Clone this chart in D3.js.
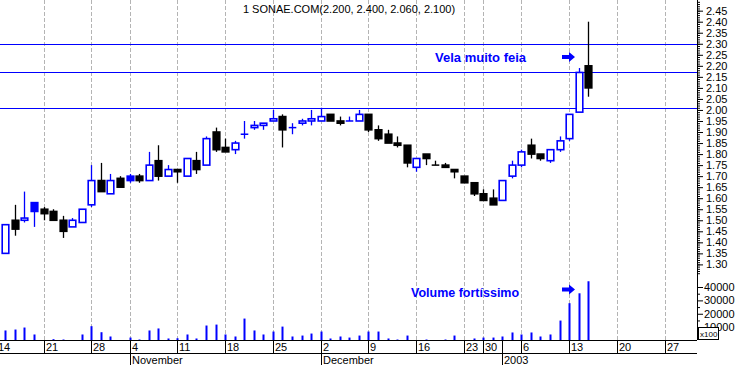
<!DOCTYPE html>
<html lang="en">
<head>
<meta charset="utf-8">
<title>SONAE.COM candlesticks</title>
<script src="https://d3js.org/d3.v7.min.js"></script>
<style>
    body { margin: 0; background: #fff; }
    svg { display: block; font-family: Arial, "Liberation Sans", sans-serif; }
</style>
</head>
<body>
<svg class="chart" width="738" height="365"></svg>
<script>
    /* global d3 */
    // trading day index, 0 = 14 Oct 2002
    let dayIdx = d3.range(1, 63);
    let openP = [1.35, 1.50, 1.50, 1.58, 1.55, 1.54, 1.50, 1.47, 1.49, 1.57,
        1.68, 1.62, 1.69, 1.70, 1.70, 1.68, 1.77, 1.70, 1.73, 1.70,
        1.77, 1.75, 1.90, 1.83, 1.82, 1.89, 1.92, 1.93, 1.95, 1.97,
        1.92, 1.94, 1.95, 1.95, 1.98, 1.95, 1.95, 1.95, 1.98, 1.91,
        1.89, 1.85, 1.84, 1.74, 1.80, 1.75, 1.75, 1.73, 1.70, 1.67,
        1.62, 1.60, 1.59, 1.70, 1.75, 1.84, 1.80, 1.77, 1.82, 1.87,
        1.99, 2.20];
    let highP = [1.48, 1.57, 1.63, 1.58, 1.56, 1.55, 1.52, 1.51, 1.55, 1.75,
        1.76, 1.71, 1.70, 1.71, 1.71, 1.81, 1.84, 1.75, 1.73, 1.78,
        1.81, 1.88, 1.92, 1.87, 1.86, 1.95, 1.95, 1.94, 2.00, 1.98,
        1.94, 1.96, 2.00, 2.01, 1.98, 1.97, 1.97, 2.00, 1.98, 1.93,
        1.91, 1.88, 1.84, 1.78, 1.80, 1.77, 1.76, 1.73, 1.70, 1.67,
        1.64, 1.64, 1.68, 1.77, 1.82, 1.87, 1.80, 1.82, 1.88, 1.98,
        2.19, 2.40];
    let lowP = [1.35, 1.43, 1.49, 1.47, 1.50, 1.50, 1.42, 1.47, 1.49, 1.56,
        1.63, 1.62, 1.65, 1.67, 1.67, 1.68, 1.68, 1.70, 1.67, 1.70,
        1.71, 1.75, 1.81, 1.81, 1.80, 1.87, 1.91, 1.91, 1.95, 1.83,
        1.89, 1.93, 1.93, 1.95, 1.95, 1.93, 1.95, 1.95, 1.90, 1.86,
        1.85, 1.83, 1.74, 1.72, 1.75, 1.75, 1.74, 1.69, 1.67, 1.61,
        1.59, 1.57, 1.59, 1.69, 1.74, 1.78, 1.77, 1.76, 1.81, 1.86,
        1.99, 2.06];
    let closeP = [1.48, 1.46, 1.51, 1.54, 1.53, 1.50, 1.45, 1.50, 1.55, 1.68,
        1.63, 1.68, 1.65, 1.68, 1.68, 1.75, 1.70, 1.73, 1.72, 1.78,
        1.73, 1.87, 1.82, 1.81, 1.85, 1.89, 1.93, 1.94, 1.96, 1.91,
        1.92, 1.95, 1.96, 1.97, 1.95, 1.94, 1.95, 1.98, 1.91, 1.87,
        1.85, 1.84, 1.76, 1.78, 1.78, 1.75, 1.74, 1.72, 1.67, 1.62,
        1.59, 1.57, 1.68, 1.75, 1.81, 1.80, 1.78, 1.82, 1.86, 1.98,
        2.17, 2.10];
    let volume = [7500, 8200, 9700, 4500, 0, 1000, 750, 0, 4500, 10700,
        6200, 3000, 0, 2200, 750, 7500, 9000, 1500, 1700, 4500,
        1500, 11200, 11900, 4500, 3000, 16400, 7500, 4500, 6700, 10400,
        3000, 3700, 5200, 6700, 1500, 3000, 2200, 3700, 6700, 6700,
        1500, 750, 3700, 0, 750, 0, 750, 3700, 0, 1500,
        2200, 2200, 3000, 6000, 4500, 6000, 3000, 4500, 14900, 27900,
        35300, 44300];

    let weekDays = [0, 5, 10, 14, 19, 24, 29, 34, 39, 44, 49, 51, 55, 60, 65, 70];
    let weekLabels = ["14", "21", "28", "4", "11", "18", "25", "2", "9", "16", "23", "30", "6", "13", "20", "27"];
    let monthDays = [14, 34, 53];
    let monthLabels = ["November", "December", "2003"];
    let priceTicks = [1.30, 1.35, 1.40, 1.45, 1.50, 1.55, 1.60, 1.65, 1.70, 1.75, 1.80, 1.85,
        1.90, 1.95, 2.00, 2.05, 2.10, 2.15, 2.20, 2.25, 2.30, 2.35, 2.40, 2.45];
    let volTicks = [10000, 20000, 30000, 40000];
    let levels = [2.30, 2.17, 2.01];

    let W = 738, H = 365;
    let axisX = 697;
    let blue = "#0000ff";

    let x = d3.scaleLinear().domain([5, 70]).range([43.5, 664.7]);
    let yP = d3.scaleLinear().domain([1.30, 2.40]).range([264.4, 21.7]);
    let yV = d3.scaleLinear().domain([0, 40000]).range([340.5, 287]);

    let svg = d3.select(".chart");
    svg.append("rect").attr("width", W).attr("height", H).attr("fill", "#fff");

    let data = dayIdx.map(function (d, i) {
        return {
            i: d, o: openP[i], h: highP[i], l: lowP[i], c: closeP[i], v: volume[i],
            up: i == 0 ? true : closeP[i] > closeP[i - 1]
        };
    });
    let px = function (d) { return Math.round(x(d.i)) + 0.5; };

    // weekly grid
    svg.append("g").selectAll("line")
        .data(weekDays)
        .join("line")
        .attr("x1", d => Math.round(x(d)) + 0.5)
        .attr("x2", d => Math.round(x(d)) + 0.5)
        .attr("y1", 0)
        .attr("y2", 340)
        .attr("stroke", "#b4b4b4")
        .attr("stroke-dasharray", "4,2");

    // horizontal levels
    svg.append("g").selectAll("line")
        .data(levels)
        .join("line")
        .attr("x1", 0)
        .attr("x2", axisX)
        .attr("y1", d => Math.round(yP(d)) + 0.5)
        .attr("y2", d => Math.round(yP(d)) + 0.5)
        .attr("stroke", blue);

    // volume
    svg.append("g").selectAll("rect")
        .data(data.filter(d => d.v > 0))
        .join("rect")
        .attr("x", d => px(d) - 1)
        .attr("width", 2)
        .attr("y", d => yV(d.v))
        .attr("height", d => yV(0) - yV(d.v))
        .attr("fill", blue);

    // candles
    let candle = svg.append("g").selectAll("g")
        .data(data)
        .join("g")
        .attr("stroke", d => d.up ? blue : "#000");

    candle.append("line")
        .attr("x1", px).attr("x2", px)
        .attr("y1", d => yP(d.h))
        .attr("y2", d => yP(Math.max(d.o, d.c)))
        .attr("stroke-width", 1.3);
    candle.append("line")
        .attr("x1", px).attr("x2", px)
        .attr("y1", d => yP(Math.min(d.o, d.c)))
        .attr("y2", d => yP(d.l))
        .attr("stroke-width", 1.3);
    candle.filter(d => d.o != d.c).append("rect")
        .attr("x", d => px(d) - 3.3)
        .attr("width", 6.6)
        .attr("y", d => yP(Math.max(d.o, d.c)))
        .attr("height", d => yP(Math.min(d.o, d.c)) - yP(Math.max(d.o, d.c)))
        .attr("fill", d => d.c > d.o ? "#fff" : (d.up ? blue : "#000"))
        .attr("stroke-width", 1.6);
    candle.filter(d => d.o == d.c).append("line")
        .attr("x1", d => px(d) - 3.8).attr("x2", d => px(d) + 3.8)
        .attr("y1", d => yP(d.c)).attr("y2", d => yP(d.c))
        .attr("stroke-width", 1.5);

    // right axis
    let minor = d3.range(126, 250).map(d => d / 100);
    svg.append("g")
        .attr("transform", "translate(" + axisX + ",0)")
        .call(d3.axisRight(yP).tickValues(minor).tickSize(3).tickFormat(""))
        .call(g => g.select(".domain").remove());
    svg.append("g")
        .attr("transform", "translate(" + axisX + ",0)")
        .call(d3.axisRight(yP).tickValues(priceTicks).tickSize(6).tickPadding(3).tickFormat(d3.format(".2f")))
        .call(g => g.select(".domain").remove())
        .selectAll("text").attr("font-size", "11px").attr("font-family", "Arial, 'Liberation Sans', sans-serif");
    svg.append("g")
        .attr("transform", "translate(" + axisX + ",0)")
        .call(d3.axisRight(yV).tickValues([5000, 15000, 25000, 35000]).tickSize(3).tickFormat(""))
        .call(g => g.select(".domain").remove());
    svg.append("g")
        .attr("transform", "translate(" + axisX + ",0)")
        .call(d3.axisRight(yV).tickValues(volTicks).tickSize(6).tickPadding(1).tickFormat(d3.format("d")))
        .call(g => g.select(".domain").remove())
        .selectAll("text").attr("font-size", "11px").attr("font-family", "Arial, 'Liberation Sans', sans-serif");
    svg.append("line")
        .attr("x1", axisX + 0.5).attr("x2", axisX + 0.5)
        .attr("y1", 0).attr("y2", 340)
        .attr("stroke", "#000");

    // x100 box
    svg.append("rect")
        .attr("x", 698.5).attr("y", 327.5).attr("width", 20).attr("height", 12)
        .attr("fill", "#fff").attr("stroke", "#000");
    svg.append("text")
        .attr("x", 700).attr("y", 337)
        .attr("font-size", "8px")
        .text("x100");

    // bottom date axis
    let bottom = svg.append("g");
    bottom.append("line").attr("x1", 0).attr("x2", axisX).attr("y1", 340.5).attr("y2", 340.5).attr("stroke", "#000");
    bottom.append("line").attr("x1", 0).attr("x2", axisX).attr("y1", 353.5).attr("y2", 353.5).attr("stroke", "#000");
    let wk = bottom.selectAll(".wk")
        .data(weekDays)
        .join("g")
        .attr("class", "wk")
        .attr("transform", d => "translate(" + (Math.round(x(d)) + 0.5) + ",0)");
    wk.append("line").attr("y1", 340).attr("y2", 353).attr("stroke", "#000");
    wk.append("text")
        .attr("x", 1.5).attr("y", 351)
        .attr("font-size", "11px")
        .text((d, i) => weekLabels[i]);
    let mo = bottom.selectAll(".mo")
        .data(monthDays)
        .join("g")
        .attr("class", "mo")
        .attr("transform", d => "translate(" + (Math.round(x(d)) + 0.5) + ",0)");
    mo.append("line").attr("y1", 340).attr("y2", 365).attr("stroke", "#000");
    mo.append("text")
        .attr("x", 1.5).attr("y", 364)
        .attr("font-size", "11px")
        .text((d, i) => monthLabels[i]);

    // title
    svg.append("text")
        .attr("x", 349).attr("y", 13)
        .attr("text-anchor", "middle")
        .attr("font-size", "11px")
        .text("1 SONAE.COM(2.200, 2.400, 2.060, 2.100)");

    // notes
    let arrow = function (g, cx, cy) {
        g.append("path")
            .attr("d", "M" + (cx - 13) + "," + (cy - 2) + "H" + (cx - 6) + "V" + (cy - 5) + "L" + cx + "," + cy +
                "L" + (cx - 6) + "," + (cy + 5) + "V" + (cy + 2) + "H" + (cx - 13) + "Z")
            .attr("fill", blue);
    };
    let notes = svg.append("g").attr("fill", blue).attr("font-weight", "bold").attr("font-size", "13px");
    notes.append("text").attr("x", 435).attr("y", 62).text("Vela muito feia");
    notes.append("text").attr("x", 411).attr("y", 297).attr("font-size", "12.5px").text("Volume fortíssimo");
    arrow(notes, 575, 57);
    arrow(notes, 575, 289.5);
</script>
</body>
</html>
